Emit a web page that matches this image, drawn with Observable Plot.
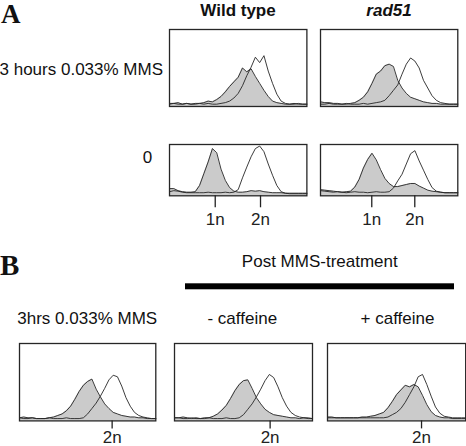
<!DOCTYPE html>
<html><head><meta charset="utf-8">
<script src="https://cdn.jsdelivr.net/npm/d3@7"></script>
<script src="https://cdn.jsdelivr.net/npm/@observablehq/plot@0.6"></script>
<style>
html,body{margin:0;padding:0;background:#fff;}
#fig{position:relative;width:466px;height:446px;overflow:hidden;font-family:"Liberation Sans",Arial,sans-serif;}
#fig svg{position:absolute;}
</style></head><body><div id="fig"></div>
<script>
// DNA content channel grid (x) shared by every histogram
const channels = [0,4,8,12,16,20,24,28,32,36,40,44,48,52,56,60,64,68,72,76,80,84,88,92,96,100,104,108,112,116,120,124,128];

// Panel A, 3 hours 0.033% MMS
const wtMmsGray    = [4,4,5,3,4,3,4,4,5,7,6,9,13,19,26,32,38,50,45,49,39,30,21,13,7,5,4,3,3,4,3,3,3];
const wtMmsWhite   = [3,4,3,3,4,3,3,4,3,4,3,3,4,5,7,11,17,27,40,51,64,57,66,46,30,16,7,4,3,3,4,3,3];
const radMmsGray   = [6,5,5,4,4,3,3,4,5,8,12,19,30,42,46,53,55,52,34,24,17,12,10,8,6,5,4,4,3,3,3,3,3];
const radMmsWhite  = [3,3,4,3,3,3,4,3,3,3,4,3,4,5,6,8,14,21,28,42,55,63,59,50,34,24,14,8,5,4,3,3,3];
// Panel A, 0
const wt0Gray      = [14,14,10,8,7,7,8,20,43,66,92,84,52,30,16,9,7,7,8,10,9,10,8,7,6,6,6,5,5,5,5,5,5];
const wt0White     = [8,10,9,7,6,6,6,6,6,7,6,6,6,7,6,7,12,35,56,76,92,97,86,62,40,20,8,5,4,4,4,4,4];
const rad0Gray     = [12,11,10,9,8,7,8,9,17,32,54,71,83,70,51,34,24,18,18,20,22,24,24,19,15,11,9,8,7,6,6,6,6];
const rad0White    = [10,9,8,7,8,7,6,7,8,7,7,6,7,8,7,7,8,15,29,42,62,82,88,68,50,32,16,9,7,6,6,6,6];
// Panel B
const bMmsGray     = [4,5,4,4,3,3,3,4,5,7,9,13,19,28,38,46,51,54,41,31,22,16,11,9,7,6,5,5,4,4,3,3,3];
const bMmsWhite    = [4,3,3,4,3,3,3,4,3,3,3,4,3,3,3,4,9,16,23,32,42,53,59,57,45,30,19,11,7,5,4,3,3];
const bNoCafGray   = [4,4,5,4,3,4,3,4,4,6,9,14,20,29,39,47,52,53,42,30,22,15,11,8,7,6,5,4,4,3,4,3,3];
const bNoCafWhite  = [4,4,3,3,4,3,3,3,4,3,3,3,4,3,3,4,8,15,22,31,41,52,60,56,44,30,19,11,7,5,4,4,3];
const bCafGray     = [5,5,4,4,4,4,4,4,5,5,6,7,9,11,17,25,34,40,46,44,47,44,33,21,12,7,5,4,4,3,3,3,3];
const bCafWhite    = [4,4,4,4,4,4,4,4,4,4,4,4,4,4,5,8,11,16,24,34,44,57,60,47,32,18,10,6,5,4,4,4,4];

// tick values and labels
const wtTicks = [42.6, 84.8];
const radTicks = [47.8, 87.9];
const ploidyLabels = ["1n", "2n"];
const bTicks1 = [87.0];
const bTicks2 = [88.7];
const bTicks3 = [87.1];
const bLabels = ["2n"];

// text
const colHeaders = ["Wild type", "rad51"];
const rowLabels = ["3 hours 0.033% MMS", "0"];
const bHeader = "Post MMS-treatment";
const bColHeaders = ["3hrs 0.033% MMS", "- caffeine", "+ caffeine"];

const INK = "#262626";
const fig = document.getElementById("fig");

function panel(gray, white, box, ticks, labels, tickSize, tickPadding) {
  const data = channels.map((c, i) => ({c, g: gray[i], w: white[i]}));
  const w = box[2] - box[0], h = box[3] - box[1];
  const mb = ticks ? tickSize + tickPadding + 16 : 1;
  const lab = new Map((ticks || []).map((t, i) => [t, labels[i]]));
  const marks = [
    Plot.areaY(data, {x: "c", y: "g", fill: "#cbcbcb"}),
    Plot.lineY(data, {x: "c", y: "g", stroke: INK, strokeWidth: 0.9}),
    Plot.lineY(data, {x: "c", y: "w", stroke: INK, strokeWidth: 0.9}),
    Plot.frame({stroke: INK, strokeWidth: 1.3})
  ];
  if (ticks) marks.push(Plot.axisX(ticks, {tickSize, tickPadding, tickFormat: d => lab.get(d), fontSize: 17, strokeWidth: 1.3, label: null}));
  const chart = Plot.plot({
    width: w + 2, height: h + 1 + mb,
    marginLeft: 1, marginRight: 1, marginTop: 1, marginBottom: mb,
    x: ticks ? {domain: [0, 128]} : {domain: [0, 128], axis: null},
    y: {domain: [0, 100], axis: null},
    style: {background: "transparent", color: "#222", fontFamily: "'Liberation Sans', Arial, sans-serif", fontSize: "17px", overflow: "visible"},
    marks
  });
  chart.style.left = (box[0] - 1) + "px";
  chart.style.top = (box[1] - 1) + "px";
  fig.appendChild(chart);
}

// layout boxes [x0, y0, x1, y1]
panel(wtMmsGray, wtMmsWhite, [169.3, 29, 306.7, 106], null);
panel(radMmsGray, radMmsWhite, [320, 29, 457.3, 106], null);
panel(wt0Gray, wt0White, [169.3, 144, 306.7, 195.3], wtTicks, ploidyLabels, 12, 5);
panel(rad0Gray, rad0White, [320, 144, 457.3, 195.3], radTicks, ploidyLabels, 12, 5);
panel(bMmsGray, bMmsWhite, [19, 343.3, 155.3, 420.7], bTicks1, bLabels, 8, 2);
panel(bNoCafGray, bNoCafWhite, [173.7, 343.3, 311.7, 420.7], bTicks2, bLabels, 8, 2);
panel(bCafGray, bCafWhite, [327.3, 343.3, 465.5, 420.7], bTicks3, bLabels, 8, 2);

// text overlay
const svg = d3.select(fig).append("svg").attr("width", 466).attr("height", 446)
  .style("left", "0px").style("top", "0px").style("pointer-events", "none");
const sans = "'Liberation Sans', Arial, sans-serif";
const serif = "'Liberation Serif', 'Times New Roman', serif";
const texts = [
  {t: "A", x: 1, y: 23, a: "start", f: serif, s: 27, w: "bold"},
  {t: "B", x: 0, y: 275, a: "start", f: serif, s: 29, w: "bold"},
  {t: colHeaders[0], x: 238, y: 15.5, a: "middle", f: sans, s: 17, w: "bold"},
  {t: colHeaders[1], x: 389, y: 15.5, a: "middle", f: sans, s: 17, w: "bold", i: true},
  {t: rowLabels[0], x: 163, y: 75, a: "end", f: sans, s: 17},
  {t: rowLabels[1], x: 147.5, y: 163.3, a: "middle", f: sans, s: 17},
  {t: bHeader, x: 319.8, y: 267.3, a: "middle", f: sans, s: 17},
  {t: bColHeaders[0], x: 17.3, y: 324.3, a: "start", f: sans, s: 17},
  {t: bColHeaders[1], x: 242.3, y: 324.3, a: "middle", f: sans, s: 17},
  {t: bColHeaders[2], x: 397.5, y: 324.3, a: "middle", f: sans, s: 17}
];
svg.selectAll("text").data(texts).join("text")
  .attr("x", d => d.x).attr("y", d => d.y)
  .attr("text-anchor", d => d.a)
  .attr("font-family", d => d.f)
  .attr("font-size", d => d.s)
  .attr("font-weight", d => d.w || "normal")
  .attr("font-style", d => d.i ? "italic" : "normal")
  .attr("fill", "#111")
  .text(d => d.t);
svg.append("rect").attr("x", 185).attr("y", 283.3).attr("width", 269).attr("height", 6).attr("fill", "#000");
</script>
</body></html>
